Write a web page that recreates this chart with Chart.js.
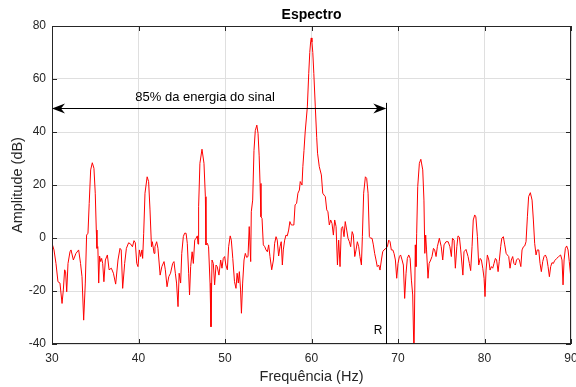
<!DOCTYPE html>
<html>
<head>
<meta charset="utf-8">
<script src="https://cdn.jsdelivr.net/npm/chart.js@4.4.1/dist/chart.umd.min.js"></script>
<style>
  html, body { margin: 0; padding: 0; background: #fff; }
  #wrap { width: 576px; height: 387px; position: relative; }
</style>
</head>
<body>
<div id="wrap"><canvas id="spectrumChart"></canvas></div>
<script>
// frequency (Hz) and amplitude (dB)
const freqHz = [
  30.0, 30.23, 30.46, 30.69, 30.92, 31.16, 31.31, 31.46, 31.57, 31.7, 31.85, 32.08, 32.2, 32.47, 32.77,
  33.08, 33.3, 33.47, 33.66, 33.85, 34.0, 34.16, 34.3, 34.47, 34.66, 34.85, 35.0, 35.12, 35.2, 35.3,
  35.4, 35.5, 35.63, 35.74, 35.86, 36.0, 36.17, 36.4, 36.6, 36.86, 37.1, 37.36, 37.63, 37.86, 38.0,
  38.17, 38.4, 38.6, 38.86, 39.1, 39.3, 39.48, 39.63, 39.8, 39.94, 40.1, 40.25, 40.4, 40.48, 40.6,
  40.75, 41.0, 41.17, 41.33, 41.5, 41.6, 41.8, 41.9, 42.1, 42.25, 42.5, 42.7, 42.95, 43.1, 43.3,
  43.5, 43.7, 43.95, 44.1, 44.26, 44.4, 44.57, 44.7, 44.87, 45.0, 45.18, 45.33, 45.5, 45.64, 45.8,
  45.9, 46.03, 46.2, 46.34, 46.5, 46.65, 46.8, 46.88, 46.95, 47.1, 47.34, 47.57, 47.73, 47.8, 47.96,
  48.1, 48.27, 48.38, 48.5, 48.65, 48.8, 48.96, 49.1, 49.3, 49.5, 49.65, 49.8, 49.96, 50.1, 50.27,
  50.42, 50.6, 50.73, 50.9, 51.1, 51.27, 51.4, 51.54, 51.66, 51.8, 51.9, 52.04, 52.2, 52.35, 52.5,
  52.66, 52.8, 52.97, 53.04, 53.2, 53.35, 53.5, 53.68, 53.82, 53.95, 54.05, 54.16, 54.28, 54.43, 54.6,
  54.74, 54.9, 55.05, 55.2, 55.4, 55.6, 55.74, 55.9, 56.04, 56.2, 56.36, 56.5, 56.63, 56.74, 56.9,
  57.05, 57.2, 57.36, 57.5, 57.67, 57.8, 57.96, 58.1, 58.28, 58.43, 58.6, 58.7, 58.9, 59.0, 59.13,
  59.27, 59.52, 59.68, 59.8, 59.9, 59.97, 60.05, 60.15, 60.27, 60.44, 60.6, 60.7, 60.9, 61.14, 61.3,
  61.45, 61.6, 61.76, 61.9, 62.06, 62.22, 62.37, 62.53, 62.68, 62.84, 63.0, 63.14, 63.3, 63.45, 63.6,
  63.76, 63.9, 64.07, 64.22, 64.38, 64.53, 64.7, 64.84, 65.0, 65.15, 65.3, 65.46, 65.6, 65.77, 65.88,
  66.03, 66.23, 66.38, 66.54, 66.69, 66.84, 67.0, 67.15, 67.3, 67.46, 67.6, 67.77, 67.92, 68.08, 68.23,
  68.38, 68.6, 68.77, 68.93, 69.08, 69.23, 69.4, 69.54, 69.7, 69.85, 70.0, 70.16, 70.3, 70.47, 70.62,
  70.77, 70.93, 71.08, 71.24, 71.4, 71.55, 71.7, 71.85, 72.0, 72.08, 72.16, 72.28, 72.47, 72.64, 72.86,
  73.0, 73.1, 73.2, 73.3, 73.47, 73.6, 73.78, 73.93, 74.1, 74.24, 74.4, 74.55, 74.78, 75.0, 75.17,
  75.32, 75.55, 75.8, 76.0, 76.17, 76.3, 76.48, 76.63, 76.8, 76.94, 77.1, 77.25, 77.5, 77.63, 77.86,
  78.1, 78.25, 78.4, 78.56, 78.7, 78.87, 79.0, 79.18, 79.33, 79.5, 79.64, 79.8, 79.95, 80.06, 80.18,
  80.33, 80.5, 80.64, 80.8, 80.95, 81.1, 81.26, 81.4, 81.57, 81.7, 81.87, 82.0, 82.18, 82.34, 82.5,
  82.64, 82.8, 82.95, 83.1, 83.26, 83.4, 83.57, 83.7, 83.88, 84.03, 84.2, 84.34, 84.5, 84.65, 84.8,
  84.96, 85.1, 85.3, 85.5, 85.65, 85.8, 85.96, 86.1, 86.27, 86.42, 86.57, 86.73, 86.88, 87.04, 87.2,
  87.35, 87.5, 87.65, 87.8, 87.96, 88.1, 88.35, 88.58, 88.8, 88.96, 89.08, 89.2, 89.35, 89.5, 89.66,
  89.8, 89.97
];
const amplitudeDb = [
  -2, -4.5, -9.6, -16.5, -17, -24.7, -19.6, -12, -12.7, -20.3, -9.6, -5.2, -4.5, -8.3, -5.8,
  -4.5, -9.6, -14.6, -31, -17, 1.1, 1.8, 13, 25.7, 28.4, 26.3, 16.9, 3, -3.9, -3.3,
  -17, -6.8, -8.9, -7.7, -9.6, -16.5, -8.3, -6.4, -12, -11.4, -13.3, -17.4, -8.3, -3.9, -4.5,
  -19, -9.6, -3.9, -1.8, -2.3, -3.3, -1, -1.8, -9.6, -10.8, -4.5, -7, -4.5, -7.7, 1.8,
  16.9, 23.1, 21.3, 10.6, -3.3, -1.4, -5.8, -3.3, -1.4, -3.9, -14, -10.8, -8.9, -12, -18.4,
  -14.6, -13.3, -9.6, -8.9, -13.3, -17, -25.9, -13.3, -17, -5.8, 0.5, 1.8, 1.8, -2, -13.3,
  -21.5, -10.8, -5.2, -9.6, -0.8, -0.1, 0.8, -2.3, 11.8, 28.2, 33.5, 28.2, 15.6, -2.6, -2,
  -3.3, -17, -33.5, -8.3, -9.6, -17.7, -10.2, -10.8, -14, -8.3, -11.4, -7.7, -7, -10.2, -12,
  -3.3, 0.8, -0.8, -7.7, -16.5, -19, -13.3, -17, -12.7, -19.6, -28.4, -17, -8.3, -5.8, -7.3,
  -7, 4.3, -8.9, 9.9, 14.3, 33, 40.5, 42.6, 39.5, 31, 20.6, 8, 7.4, -2.6, -3.3,
  -4.5, -5.2, -2.6, -7, -12, -8.3, -2, 0.5, -0.8, -6.8, -3.3, -1.4, -10.2, -4.5, -0.8,
  1.1, 0.8, 3, 6.2, 4.9, 4.9, 4.9, 12.5, 13.1, 16.9, 18.1, 21.3, 20, 26.9, 33,
  40, 49.5, 62, 70, 74, 75.5, 74, 70, 62, 49.5, 38, 32, 26.9, 23.8, 16.9,
  16.2, 15.6, 10.6, 9.9, 4.9, 6.8, 5.5, 1.1, 6.8, 4.3, -10.2, -0.8, -10.8, 3.6, 4.3,
  0.5, 6.2, 3, -0.1, -1.4, -3.3, 2.4, 1.1, -7, -4.5, -1.4, -3.3, -7, -10.2, 0.5,
  16.9, 23.1, 22.5, 16.9, 0.5, -0.1, -0.1, -2.6, -5.8, -8.3, -10.8, -10.2, -12.1, -8.3, -5.2,
  -4.5, -3.9, -3.3, -0.8, -1.4, -4.5, -4.5, -5.8, -8.3, -15.2, -9.6, -7, -6.4, -8.3, -10.2,
  -22.8, -13.3, -7.7, -6.4, -7.7, -15.9, -21.5, -45, -2.6, -10.8, 1.8, 19.4, 28.2, 29.7, 25.7,
  14.3, -5.8, 1.1, -4.5, -15.2, -9.6, -8.3, -7, -3.9, -4.5, -7, -3.3, -0.1, -3.3, -8.3,
  -2.6, -1.4, -1.4, -3.3, -7, -0.1, -0.8, -11.4, -3.3, 0.8, 0.3, -4.5, -14, -5.2, -4.3,
  -7, -9.6, -12.3, -3.3, 6.8, 8.7, 8, 0.5, -10.2, -7.7, -8.3, -11.4, -15.2, -22.1, -12.1,
  -6.4, -8.3, -12.1, -10.8, -11.4, -9.6, -7.7, -8.3, -12.7, -8.9, -3.3, -0.1, 0.5, -2.6, -5.8,
  -6.4, -7, -11.4, -8.3, -7, -9.6, -10.2, -8.3, -7.7, -8.3, -10.8, -4.5, -3.3, -3, -1.4,
  8, 15.6, 17.1, 14.3, 6.8, -2, -6.4, -4.5, -4.5, -9.6, -12.7, -8.9, -7, -6.4, -7.7,
  -10.8, -14.6, -10.8, -9.3, -9.6, -8.6, -7.7, -7, -6.4, -8.3, -17.7, -8.3, -3.9, -3, -4.5,
  -8.9, -14.6
];

const xTickValues = [30, 40, 50, 60, 70, 80, 90];
const yTickValues = [-40, -20, 0, 20, 40, 60, 80];

// annotation: 85% energy span and the R marker (data units)
const energyLabel = '85% da energia do sinal';
const energyStart = 30;
const energyEnd = 68.65;
const arrowDb = 49;
const markerTopDb = 51;
const markerLabel = 'R';

const inkColor = '#262626';

document.addEventListener('DOMContentLoaded', function () {
  const el = document.getElementById('spectrumChart');

  Chart.defaults.font.family = "'Liberation Sans', Arial, Helvetica, sans-serif";
  Chart.defaults.font.size = 12;
  Chart.defaults.color = inkColor;

  const points = freqHz.map((f, i) => ({ x: f, y: amplitudeDb[i] }));

  function arrowHead(ctx, tipX, tipY, dir) {
    const len = 13, half = 5, notch = 4;
    ctx.beginPath();
    ctx.moveTo(tipX, tipY);
    ctx.lineTo(tipX - dir * len, tipY - half);
    ctx.lineTo(tipX - dir * (len - notch), tipY);
    ctx.lineTo(tipX - dir * len, tipY + half);
    ctx.closePath();
    ctx.fill();
  }

  const matlabAxes = {
    id: 'matlabAxes',
    afterDraw(chart) {
      const { ctx, chartArea: a, scales: { x, y } } = chart;
      ctx.save();

      // box + inward ticks
      ctx.strokeStyle = inkColor;
      ctx.lineWidth = 1;
      ctx.strokeRect(a.left + 0.5, a.top + 0.5, a.right - a.left - 1, a.bottom - a.top - 1);
      ctx.beginPath();
      xTickValues.forEach(v => {
        const px = Math.round(x.getPixelForValue(v)) + 0.5;
        ctx.moveTo(px, a.bottom); ctx.lineTo(px, a.bottom - 5);
        ctx.moveTo(px, a.top); ctx.lineTo(px, a.top + 5);
      });
      yTickValues.forEach(v => {
        const py = Math.round(y.getPixelForValue(v)) + 0.5;
        ctx.moveTo(a.left, py); ctx.lineTo(a.left + 5, py);
        ctx.moveTo(a.right, py); ctx.lineTo(a.right - 5, py);
      });
      ctx.stroke();

      // title
      ctx.fillStyle = '#000';
      ctx.font = "bold 14px 'Liberation Sans', Arial, sans-serif";
      ctx.textAlign = 'center';
      ctx.textBaseline = 'middle';
      ctx.fillText('Espectro', (a.left + a.right) / 2, 15);

      // energy arrow
      const x0 = x.getPixelForValue(energyStart);
      const x1 = x.getPixelForValue(energyEnd);
      const ya = Math.round(y.getPixelForValue(arrowDb)) + 0.5;
      ctx.strokeStyle = '#000';
      ctx.fillStyle = '#000';
      ctx.beginPath();
      ctx.moveTo(x0 + 6, ya);
      ctx.lineTo(x1 - 6, ya);
      ctx.stroke();
      arrowHead(ctx, x0, ya, -1);
      arrowHead(ctx, x1, ya, 1);

      ctx.font = "13px 'Liberation Sans', Arial, sans-serif";
      ctx.textAlign = 'center';
      ctx.textBaseline = 'middle';
      ctx.fillText(energyLabel, x.getPixelForValue(47.7), y.getPixelForValue(53.2));

      // R marker line
      const xm = Math.round(x.getPixelForValue(energyEnd)) + 0.5;
      ctx.beginPath();
      ctx.moveTo(xm, y.getPixelForValue(markerTopDb));
      ctx.lineTo(xm, a.bottom);
      ctx.stroke();
      ctx.font = "12px 'Liberation Sans', Arial, sans-serif";
      ctx.textAlign = 'right';
      ctx.fillText(markerLabel, xm - 4, y.getPixelForValue(-35));

      ctx.restore();
    }
  };

  new Chart(el, {
    type: 'line',
    data: {
      datasets: [{
        data: points,
        borderColor: '#ff0000',
        borderWidth: 1,
        pointRadius: 0,
        tension: 0,
        fill: false,
        clip: 0
      }]
    },
    options: {
      responsive: true,
      maintainAspectRatio: false,
      animation: false,
      layout: { padding: { top: 26, right: 5, left: 0, bottom: 0 } },
      plugins: {
        legend: { display: false },
        tooltip: { enabled: false }
      },
      scales: {
        x: {
          type: 'linear',
          min: 30,
          max: 90,
          afterBuildTicks: (s) => { s.ticks = xTickValues.map(v => ({ value: v })); },
          afterFit: (s) => { s.height = 43; s.paddingLeft = 0; s.paddingRight = 0; },
          border: { display: false },
          grid: { color: '#dfdfdf', drawTicks: false },
          ticks: { padding: 7, color: inkColor, maxRotation: 0 },
          title: {
            display: true,
            text: 'Frequência (Hz)',
            color: inkColor,
            font: { size: 14.5 },
            padding: { top: 0, bottom: 1 }
          }
        },
        y: {
          min: -40,
          max: 80,
          afterBuildTicks: (s) => { s.ticks = yTickValues.map(v => ({ value: v })); },
          afterFit: (s) => { s.width = 52; s.paddingTop = 0; s.paddingBottom = 0; },
          border: { display: false },
          grid: { color: '#dfdfdf', drawTicks: false },
          ticks: { padding: 6, color: inkColor },
          title: {
            display: true,
            text: 'Amplitude (dB)',
            color: inkColor,
            font: { size: 14.5 },
            padding: { top: 9, bottom: 0 }
          }
        }
      }
    },
    plugins: [matlabAxes]
  });
});
</script>
</body>
</html>
